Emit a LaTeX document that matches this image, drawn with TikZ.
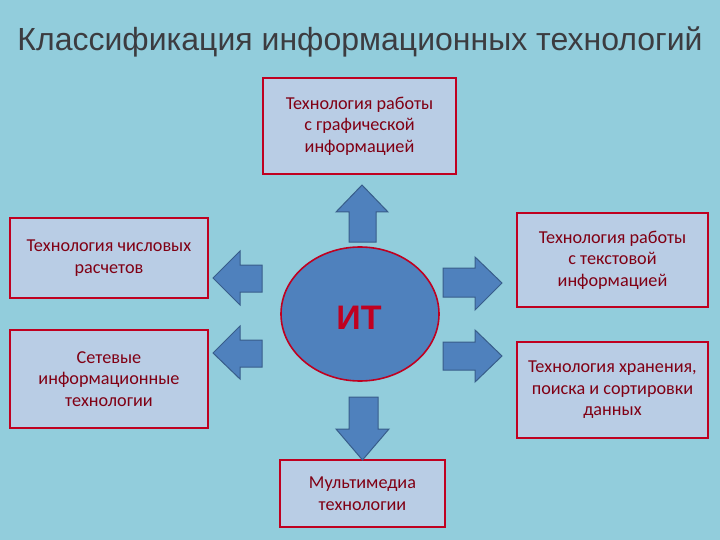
\documentclass[tikz,border=0pt]{standalone}
\usepackage{fontspec}
\usetikzlibrary{shapes.geometric}
\setmainfont{Carlito}
\newfontfamily\titlefont{Liberation Sans}
\newfontfamily\itfont{Liberation Sans}
\definecolor{bg}{RGB}{146,205,220}
\definecolor{boxfill}{RGB}{185,205,229}
\definecolor{boxline}{RGB}{192,0,32}
\definecolor{boxtext}{RGB}{128,0,20}
\definecolor{arrfill}{RGB}{79,129,189}
\definecolor{arrline}{RGB}{56,93,138}
\definecolor{titlecol}{RGB}{60,60,64}
\begin{document}
\begin{tikzpicture}[x=1pt,y=-1pt,
  infobox/.style={draw=boxline,line width=1.6pt,fill=boxfill,text=boxtext,
    font=\fontsize{18.2}{21.5}\selectfont,align=center,inner sep=0pt},
  bigarrow/.style={draw=arrline,line width=1pt,fill=arrfill,line join=miter}]
\fill[bg] (0,0) rectangle (720,540);
\useasboundingbox (0,0) rectangle (720,540);
\node[text=titlecol,font=\titlefont\fontsize{32}{36}\selectfont] (title) at (360,42) {Классификация информационных технологий};

% boxes
\node[infobox,minimum width=193pt,minimum height=96pt] (top) at (359.5,126) {Технология работы\\с графической\\информацией};
\node[infobox,minimum width=198pt,minimum height=80pt] (lt) at (109,258) {Технология числовых\\расчетов};
\node[infobox,minimum width=198pt,minimum height=98pt] (lb) at (109,379) {Сетевые\\информационные\\технологии};
\node[infobox,minimum width=191pt,minimum height=94pt] (rt) at (612.5,260) {Технология работы\\с текстовой\\информацией};
\node[infobox,minimum width=191pt,minimum height=96pt] (rb) at (612.5,390) {Технология хранения,\\поиска и сортировки\\данных};
\node[infobox,minimum width=165pt,minimum height=67pt] (bot) at (362.5,493.5) {Мультимедиа\\технологии};

% centre
\node[draw=boxline,line width=1.6pt,fill=arrfill,ellipse,minimum width=158pt,minimum height=134pt,inner sep=0pt] (it) at (360,314) {};
\node[text=boxline,font=\itfont\bfseries\fontsize{34}{34}\selectfont] (itlabel) at (359,318) {ИТ};

% arrows
\draw[bigarrow] (349,242) -- (349,212) -- (336,212) -- (362,185) -- (388,212) -- (376,212) -- (376,242) -- cycle;
\draw[bigarrow] (349,397) -- (349,429) -- (336,429) -- (362.5,460) -- (389,429) -- (378,429) -- (378,397) -- cycle;
\draw[bigarrow] (262,265) -- (240,265) -- (240,251) -- (213,278) -- (240,305) -- (240,292) -- (262,292) -- cycle;
\draw[bigarrow] (262,340) -- (240,340) -- (240,326) -- (213,353) -- (240,379) -- (240,367) -- (262,367) -- cycle;
\draw[bigarrow] (443,268) -- (475,268) -- (475,257) -- (502,283) -- (475,310) -- (475,297) -- (443,297) -- cycle;
\draw[bigarrow] (443,342) -- (475,342) -- (475,330) -- (502,356) -- (475,382) -- (475,370) -- (443,370) -- cycle;
\end{tikzpicture}
\end{document}
